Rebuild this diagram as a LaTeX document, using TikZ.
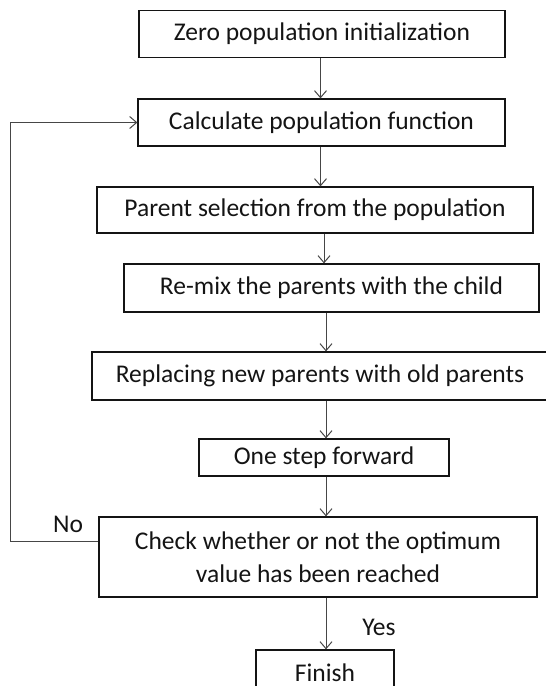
\documentclass[tikz,border=0pt]{standalone}
\usepackage{fontspec}
\setmainfont{Carlito}
\usetikzlibrary{arrows.meta}
\definecolor{fg}{RGB}{20,20,20}
\definecolor{ln}{RGB}{70,70,70}
\tikzset{
  every picture/.style={line width=0.9pt, >={Straight Barb[length=7pt,width=12pt]}},
  every node/.style={font=\fontsize{25.5}{33}\selectfont, text=fg},
  % Kästen und Pfeile
  box/.style={draw=fg, line width=1.2pt, align=center, inner sep=0pt},
  flow/.style={ln, line width=1pt, ->},
}

\begin{document}
\begin{tikzpicture}[x=1pt, y=-1pt]
  \useasboundingbox (0,0) rectangle (546,686);
  % Ablauf
  \node[box, minimum width=366pt, minimum height=47pt] (init)  at (322,34)    {Zero population initialization};
  \node[box, minimum width=367pt, minimum height=47pt] (calc)  at (321.5,122.5) {Calculate population function};
  \node[box, minimum width=436pt, minimum height=46pt] (sel)   at (315,210)   {Parent selection from the population};
  \node[box, minimum width=415pt, minimum height=48pt] (mix)   at (331.5,288) {Re-mix the parents with the child};
  \node[box, minimum width=456pt, minimum height=48pt] (repl)  at (320,376)   {Replacing new parents with old parents};
  \node[box, minimum width=250pt, minimum height=37pt] (fwd)   at (324,457.5) {One step forward};
  \node[box, minimum width=438pt, minimum height=80pt] (check) at (318,557)   {Check whether or not the optimum\\value has been reached};
  \node[box, minimum width=138pt, minimum height=46pt] (fin)   at (325,673)   {Finish};
  % Pfeile
  \foreach \a/\b/\x in {init/calc/320.5, calc/sel/320.5, sel/mix/324, mix/repl/326,
                        repl/fwd/326, fwd/check/326, check/fin/326} {
    \coordinate (ax) at (\x,0);
    \draw[flow] (\a.south -| ax) -- (\b.north -| ax);
  }
  % Rückführung
  \coordinate (back) at (10,541);
  \draw[flow] (check.west |- back) -- (back) |- (calc.west);
  \node (no)  at (68,524)  {No};
  \node (yes) at (379,627) {Yes};
\end{tikzpicture}
\end{document}
